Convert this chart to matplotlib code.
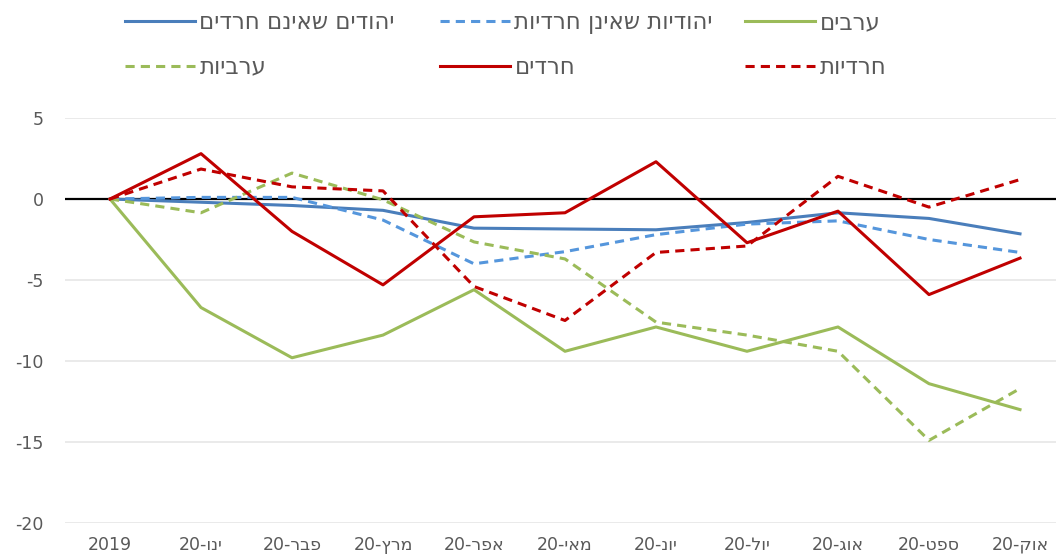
import matplotlib.pyplot as plt
from matplotlib.lines import Line2D

# months (Hebrew, logical order) and series values
months = ['ינו', 'פבר', 'מרץ', 'אפר', 'מאי', 'יונ', 'יול', 'אוג', 'ספט', 'אוק']
jews_m = [0, -0.2, -0.4, -0.7, -1.8, -1.85, -1.9, -1.45, -0.85, -1.2, -2.15]
jews_f = [0, 0.1, 0.1, -1.3, -4.0, -3.25, -2.2, -1.55, -1.35, -2.5, -3.3]
arab_m = [0, -6.7, -9.8, -8.4, -5.6, -9.4, -7.9, -9.4, -7.9, -11.4, -13.0]
arab_f = [0, -0.85, 1.6, -0.05, -2.65, -3.7, -7.6, -8.4, -9.4, -14.9, -11.7]
haredi_m = [0, 2.8, -2.0, -5.3, -1.1, -0.85, 2.3, -2.7, -0.75, -5.9, -3.65]
haredi_f = [0, 1.85, 0.75, 0.5, -5.4, -7.5, -3.3, -2.9, 1.4, -0.5, 1.2]

names = ['יהודים שאינם חרדים', 'יהודיות שאינן חרדיות', 'ערבים',
         'ערביות', 'חרדים', 'חרדיות']


def vis(s):
    # matplotlib has no bidi, so flip Hebrew into visual order
    return s[::-1]


labels = ['2019'] + ['20-' + vis(m) for m in months]
x = list(range(len(labels)))

grey = '#595959'
plt.rcParams['font.family'] = ['DejaVu Sans']
plt.rcParams['axes.unicode_minus'] = False

fig = plt.figure(figsize=(10.56, 5.6), dpi=100)
ax = fig.add_axes([64.5 / 1056, 37 / 560, 1001 / 1056, 405 / 560])

ax.set_xlim(-0.5, 10.5)
ax.set_ylim(-20, 5)
ax.set_yticks([5, 0, -5, -10, -15, -20])
ax.yaxis.grid(True, color='#e8e8e8', lw=1.3)
ax.set_axisbelow(True)
ax.axhline(0, color='black', lw=1.6, zorder=1.5)
for sp in ax.spines.values():
    sp.set_visible(False)
ax.tick_params(length=0, labelsize=12.5, labelcolor=grey)
ax.tick_params(axis='y', pad=15)
ax.tick_params(axis='x', pad=9)
ax.set_xticks(x)
ax.set_xticklabels(labels)

lw = 2.2
dash = (0, (3, 2))
series = [
    (jews_m, '#4a7ebb', '-'),
    (jews_f, '#5596dc', dash),
    (arab_m, '#9bbb59', '-'),
    (arab_f, '#9bbb59', dash),
    (haredi_m, '#c00000', '-'),
    (haredi_f, '#c00000', dash),
]
handles = []
for (vals, c, ls), n in zip(series, names):
    ax.plot(x, vals, color=c, ls=ls, lw=lw, zorder=2)
    handles.append(Line2D([], [], color=c, ls=ls, lw=lw, label=vis(n)))

# Excel-style legend: 3 fixed columns, 2 rows
cols = [(handles[0], handles[3], 125), (handles[1], handles[4], 440),
        (handles[2], handles[5], 745)]
for h1, h2, px in cols:
    leg = fig.legend(handles=[h1, h2], loc='upper left',
                     bbox_to_anchor=(px / 1056, 1 - 11 / 560),
                     frameon=False, fontsize=16.5, handlelength=3.05,
                     handletextpad=0.2, labelspacing=0.95, borderpad=0,
                     borderaxespad=0)
    for t in leg.get_texts():
        t.set_color(grey)

fig.savefig('out.png', dpi=100)
